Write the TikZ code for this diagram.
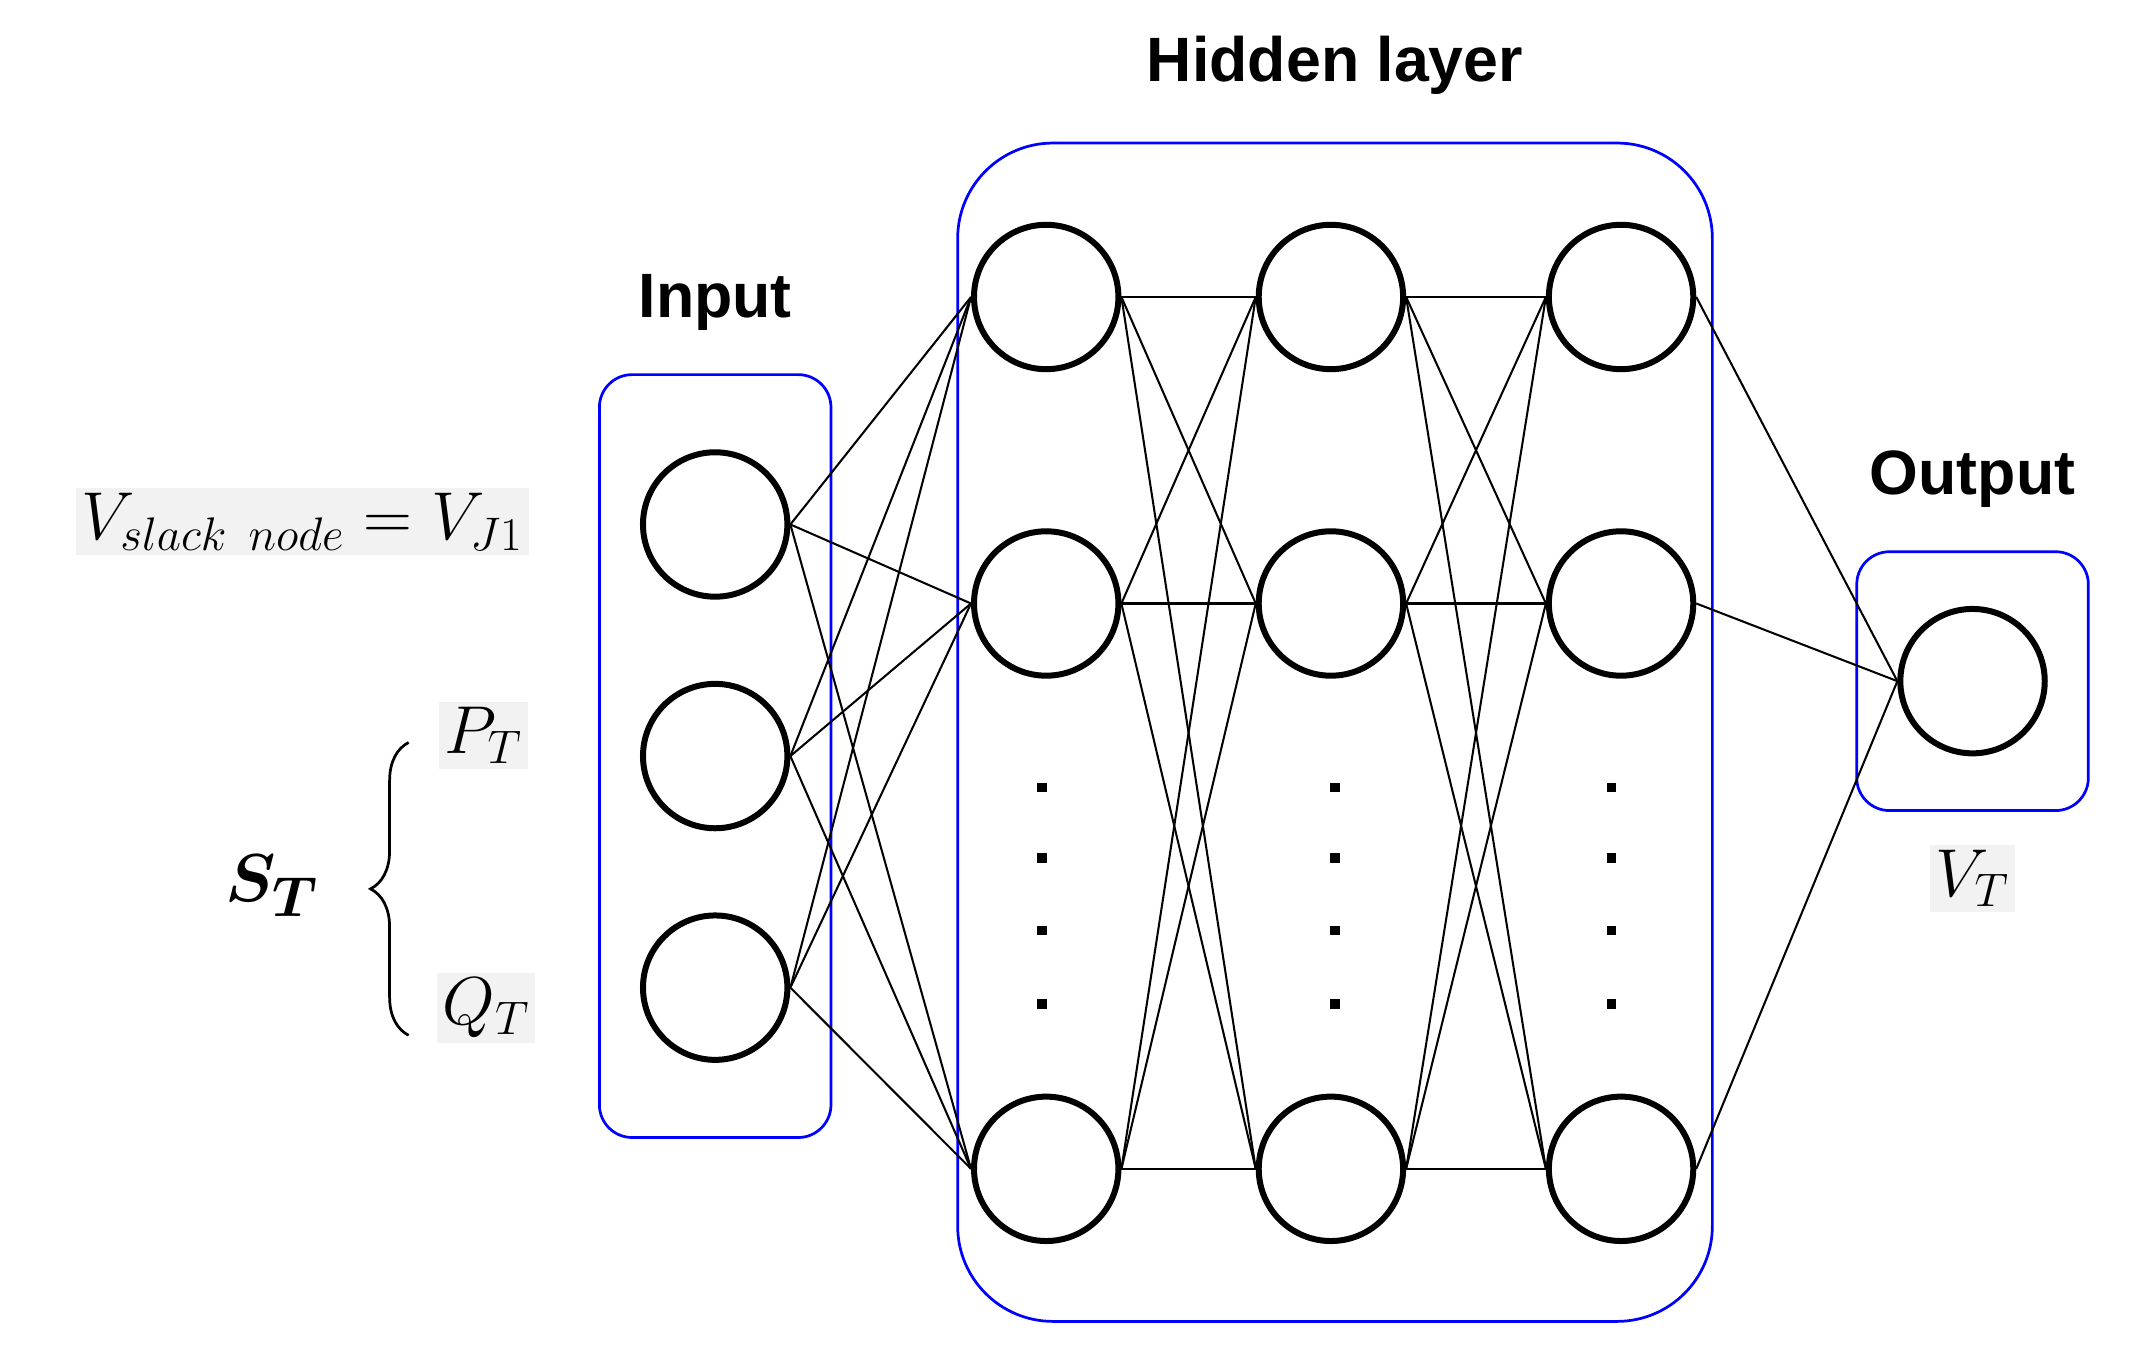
\documentclass[tikz,border=0pt]{standalone}
\usepackage{fontspec}
\newfontfamily\lab{Liberation Sans}
\usetikzlibrary{decorations.pathreplacing}
\begin{document}
\begin{tikzpicture}[x=0.5pt,y=-0.5pt,
  neu/.style={circle,draw,line width=2.2pt,minimum size=53pt,inner sep=0pt},
  grp/.style={draw=blue,line width=1pt,rounded corners=#1},
  ed/.style={line width=0.75pt},
  ttl/.style={font=\lab\bfseries\fontsize{23}{26}\selectfont},
  mth/.style={font=\fontsize{27}{30}\selectfont},
  dt/.style={rectangle,fill,inner sep=0pt,minimum size=3.5pt}]
\useasboundingbox (0,0) rectangle (1568,998);
\fill[white] (0,0) rectangle (1568,998);
% boxes
\draw[grp=12pt] (440,275) rectangle (610,835);
\draw[grp=35pt] (703,105) rectangle (1257,970);
\draw[grp=12pt] (1363,405) rectangle (1533,595);
% neurons
\foreach \n/\y in {1/385,2/555,3/725} \node[neu] (i\n) at (525,\y) {};
\foreach \c/\x in {1/768,2/977,3/1190}
  \foreach \r/\y in {1/218,2/443,3/858} \node[neu] (h\c\r) at (\x,\y) {};
\node[neu] (o) at (1448,500) {};
% edges
\foreach \a in {1,2,3}\foreach \b in {1,2,3} \draw[ed] (i\a.east) -- (h1\b.west);
\foreach \a in {1,2,3}\foreach \b in {1,2,3} {\draw[ed] (h1\a.east) -- (h2\b.west); \draw[ed] (h2\a.east) -- (h3\b.west);}
\foreach \a in {1,2,3} \draw[ed] (h3\a.east) -- (o.west);
% dots
\foreach \c/\x in {1/765,2/980,3/1183}
  \foreach \k/\y in {1/578,2/630,3/683,4/737} \node[dt] (d\c\k) at (\x,\y) {};
% titles
\node[ttl] (th) at (980,48) {Hidden layer};
\node[ttl] (ti) at (525,222) {Input};
\node[ttl] (to) at (1448,352) {Output};
% math labels
\node[mth,fill=black!5,inner sep=2pt] (vs) at (222,383) {$V_{slack\ node}=V_{J1}$};
\node[mth,fill=black!5,inner sep=2pt] (pt) at (355,540) {$P_T$};
\node[mth,fill=black!5,inner sep=2pt] (qt) at (357,740) {$Q_T$};
\node[mth,fill=black!5,inner sep=2pt] (vt) at (1448,645) {$V_T$};
\node[font=\fontsize{30}{32}\selectfont\boldmath] (st) at (200,650) {$S_T$};
\draw[line width=1pt,decorate,decoration={brace,amplitude=14pt}] (300,760) -- (300,545);
\end{tikzpicture}
\end{document}
